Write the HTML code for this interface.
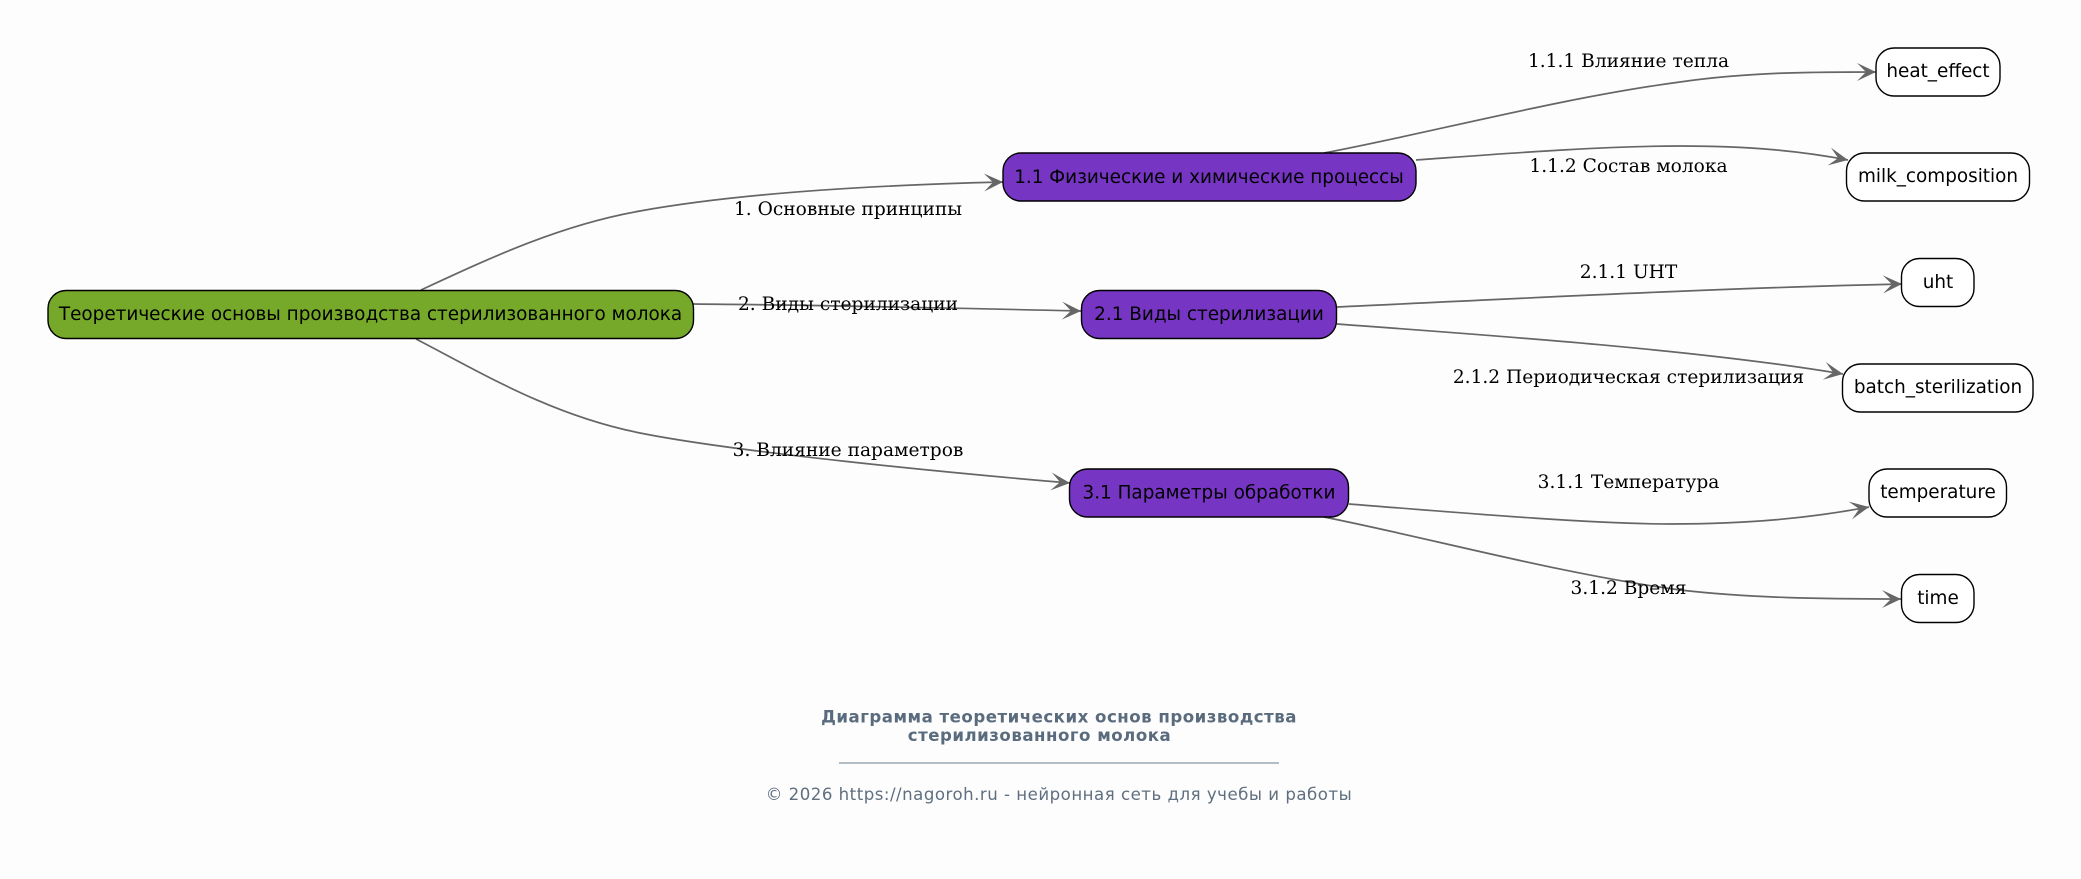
<!DOCTYPE html>
<html><head><meta charset="utf-8"><style>
html,body{margin:0;padding:0;background:#fdfdfd}
svg{display:block}
.n{font-family:"DejaVu Sans",sans-serif;font-size:18.4px;fill:#000;text-anchor:middle}
.l{font-family:"DejaVu Serif",serif;font-size:18.6px;fill:#000;text-anchor:middle}
.e{fill:none;stroke:#666;stroke-width:1.7;marker-end:url(#a)}
.b{stroke:#000;stroke-width:1.4}
</style></head><body>
<svg width="2081" height="879" viewBox="0 0 2081 879" xmlns="http://www.w3.org/2000/svg">
<defs><marker id="a" markerUnits="userSpaceOnUse" markerWidth="24" markerHeight="24" refX="20" refY="10" orient="auto"><path d="M20,10 L1,1 L10,10 L1,19 Z" fill="#666"/></marker></defs>
<rect width="2081" height="879" fill="#fdfdfd"/>
<path class="e" d="M421,290 C490,258 560,225 640,211 C740,193 880,185 1003,182"/>
<path class="e" d="M693,304 C820,305 950,308 1081,311"/>
<path class="e" d="M416,339 C480,372 550,415 640,433 C735,452 950,473 1070,483"/>
<path class="e" d="M1324,153 C1430,133 1560,98 1680,82 C1750,72 1810,72 1876,72"/>
<path class="e" d="M1416,160 C1500,154 1600,146 1680,146 C1750,146 1800,151 1848,160"/>
<path class="e" d="M1337,307 C1530,298 1720,288 1902,284"/>
<path class="e" d="M1337,324 C1500,336 1700,350 1843,374"/>
<path class="e" d="M1349,504 C1450,512 1590,524 1670,524 C1750,524 1810,518 1869,507"/>
<path class="e" d="M1324,517 C1430,538 1560,574 1680,590 C1750,598 1820,599 1901,599"/>
<rect class="b" x="48" y="290.500" width="645.500" height="48" rx="18" fill="#76a82a"/>
<text class="n" x="370.500" y="320">Теоретические основы производства стерилизованного молока</text>
<rect class="b" x="1003" y="153" width="413" height="48" rx="18" fill="#7635c2"/>
<text class="n" x="1209" y="183">1.1 Физические и химические процессы</text>
<rect class="b" x="1081.500" y="290.500" width="255" height="48" rx="18" fill="#7635c2"/>
<text class="n" x="1209" y="320">2.1 Виды стерилизации</text>
<rect class="b" x="1069.500" y="469" width="279" height="48" rx="18" fill="#7635c2"/>
<text class="n" x="1209" y="498.500">3.1 Параметры обработки</text>
<rect class="b" x="1876" y="48" width="124" height="48" rx="18" fill="#fff"/>
<text class="n" x="1938" y="77">heat_effect</text>
<rect class="b" x="1846.500" y="153" width="183" height="48" rx="18" fill="#fff"/>
<text class="n" x="1938" y="182">milk_composition</text>
<rect class="b" x="1901.500" y="258.500" width="72.500" height="48" rx="18" fill="#fff"/>
<text class="n" x="1938" y="288">uht</text>
<rect class="b" x="1842.500" y="364" width="190.500" height="48" rx="18" fill="#fff"/>
<text class="n" x="1938" y="393">batch_sterilization</text>
<rect class="b" x="1869" y="469" width="137.500" height="48" rx="18" fill="#fff"/>
<text class="n" x="1938" y="498">temperature</text>
<rect class="b" x="1901.500" y="574.500" width="72.500" height="48" rx="18" fill="#fff"/>
<text class="n" x="1938" y="604">time</text>
<text class="l" x="848" y="215">1. Основные принципы</text>
<text class="l" x="848" y="310">2. Виды стерилизации</text>
<text class="l" x="848" y="456">3. Влияние параметров</text>
<text class="l" x="1628.500" y="67">1.1.1 Влияние тепла</text>
<text class="l" x="1628.500" y="172">1.1.2 Состав молока</text>
<text class="l" x="1628.500" y="278">2.1.1 UHT</text>
<text class="l" x="1628.500" y="383">2.1.2 Периодическая стерилизация</text>
<text class="l" x="1628.500" y="488">3.1.1 Температура</text>
<text class="l" x="1628.500" y="594">3.1.2 Время</text>
<text x="1059" y="722.500" text-anchor="middle" font-family="DejaVu Sans,sans-serif" font-size="16.600" font-weight="700" fill="#5a6b7d" letter-spacing=".5">Диаграмма теоретических основ производства</text>
<text x="1039.500" y="741" text-anchor="middle" font-family="DejaVu Sans,sans-serif" font-size="16.600" font-weight="700" fill="#5a6b7d" letter-spacing=".5">стерилизованного молока</text>
<rect x="839" y="762.500" width="440" height="1" fill="#6b7a8a"/>
<text x="1059" y="800" text-anchor="middle" font-family="DejaVu Sans,sans-serif" font-size="16.600" fill="#5f6f80" letter-spacing=".5">© 2026 https://nagoroh.ru - нейронная сеть для учебы и работы</text>
</svg>
</body></html>
